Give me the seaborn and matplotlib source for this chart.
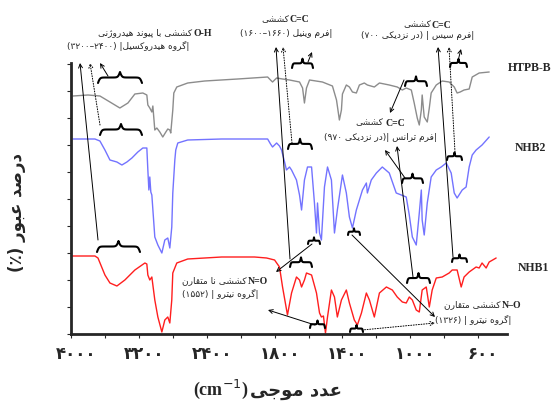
import re
import numpy as np
import pandas as pd
import matplotlib
matplotlib.use("Agg")
import matplotlib.pyplot as plt
import matplotlib.transforms as mtrans
from matplotlib.lines import Line2D
import seaborn as sns

# FTIR spectra: wavenumber (cm-1) / transmittance (stacked, a.u.)
htpb_wn = [3976, 3800, 3659, 3541, 3424, 3329, 3247, 3153, 3106, 3094, 3071, 3047, 3035, 3012, 2988, 2953,
           2918, 2882, 2859, 2835, 2824, 2800, 2788, 2753, 2624, 2424, 2035, 1841, 1824, 1812, 1788, 1753,
           1712, 1653, 1635, 1624, 1612, 1594, 1518, 1459, 1435, 1418, 1406, 1400, 1377, 1359, 1341, 1318,
           1300, 1271, 1253, 1212, 1182, 1124, 1077, 1047, 1024, 994, 977, 959, 947, 935, 930, 918, 900, 888,
           877, 847, 812, 771, 741, 724, 706, 683, 653, 635, 594, 535]
htpb_t = [238, 239, 238, 232, 226, 231, 240, 241, 239, 229, 226, 222, 228, 204, 206, 202,
          197, 202, 205, 204, 201, 224, 241, 247, 251, 253, 255, 257, 254, 252, 256, 255,
          254, 252, 246, 231, 246, 254, 252, 248, 234, 214, 224, 240, 249, 247, 242, 241,
          249, 251, 249, 247, 251, 249, 247, 244, 246, 244, 231, 216, 209, 224, 239, 217, 212, 226,
          241, 249, 253, 252, 247, 241, 242, 244, 245, 257, 261, 262]

nhb2_wn = [3976, 3718, 3659, 3600, 3541, 3459, 3400, 3341, 3282, 3212, 3153, 3106, 3094, 3082, 3071, 3059,
           3047, 3012, 2976, 2929, 2894, 2859, 2835, 2812, 2800, 2776, 2765, 2741, 2624, 2224, 1841, 1824,
           1812, 1788, 1771, 1759, 1741, 1730, 1712, 1700, 1671, 1653, 1641, 1624, 1606, 1582, 1565, 1553,
           1547, 1535, 1524, 1506, 1488, 1465, 1447, 1430, 1400, 1377, 1359, 1341, 1318, 1282, 1259, 1253,
           1230, 1200, 1165, 1124, 1083, 1053, 1024, 1006, 988, 965, 947, 935, 930, 918, 900, 877,
           847, 818, 788, 759, 741, 724, 694, 671, 653, 635, 612, 577, 535]
nhb2_t = [195, 195, 193, 184, 174, 172, 169, 172, 176, 182, 186, 186, 164, 144, 157, 142,
          139, 97, 89, 81, 94, 96, 86, 107, 141, 174, 184, 191, 194, 195, 195, 190,
          187, 191, 188, 184, 172, 164, 167, 164, 154, 139, 124, 154, 167, 167, 131, 101,
          131, 101, 94, 147, 167, 154, 101, 124, 159, 141, 117, 106, 124, 144, 151, 141,
          154, 161, 167, 161, 141, 139, 137, 119, 97, 89, 121, 144, 114, 99, 131, 157,
          164, 167, 171, 161, 141, 136, 144, 147, 167, 179, 184, 189, 197]

nhb1_wn = [3988, 3718, 3682, 3600, 3541, 3459, 3365, 3247, 3129, 3106, 3094, 3071, 3047, 3012, 2976, 2929,
           2894, 2859, 2835, 2812, 2800, 2753, 2624, 2224, 1918, 1847, 1800, 1771, 1753, 1724, 1700, 1671,
           1653, 1641, 1624, 1612, 1582, 1553, 1535, 1524, 1512, 1500, 1488, 1465, 1447, 1430, 1406, 1377,
           1359, 1330, 1312, 1288, 1259, 1241, 1212, 1182, 1141, 1106, 1077, 1047, 1024, 1006, 988, 965,
           947, 930, 906, 888, 871, 847, 812, 771, 753, 724, 700, 683, 653, 612, 594, 577, 553, 535, 494]
nhb1_t = [78, 78, 76, 59, 51, 48, 54, 64, 71, 70, 59, 54, 57, 34, 17, 2,
          14, 17, 11, 34, 61, 71, 75, 77, 77, 76, 74, 67, 47, 19, 41, 57,
          54, 47, 54, 61, 59, 41, 21, 17, 18, 1, 17, 44, 37, 17, 34, 44,
          31, 14, 9, 21, 41, 34, 17, 41, 47, 44, 37, 32, 31, 37, 34, 24,
          22, 44, 47, 27, 44, 56, 57, 61, 64, 64, 47, 57, 62, 67, 66, 71, 66, 72, 76]

samples = ["HTPB-B", "NHB2", "NHB1"]
colors = ["#8c8c8c", "#7373ff", "#ff1e1e"]

major_ticks = [4000, 3200, 2400, 1800, 1400, 1000, 600]
major_labels = ["۴۰۰۰", "۳۲۰۰", "۲۴۰۰", "۱۸۰۰", "۱۴۰۰", "۱۰۰۰", "۶۰۰"]
minor_ticks = [3600, 2800, 2000, 1600, 1200, 800]

# ---- minimal persian shaping (matplotlib has no complex text layout) ----
FORMS = {
    'ا': ('\ufe8d', '\ufe8e', None, None), 'ب': ('\ufe8f', '\ufe90', '\ufe91', '\ufe92'),
    'پ': ('\ufb56', '\ufb57', '\ufb58', '\ufb59'), 'ت': ('\ufe95', '\ufe96', '\ufe97', '\ufe98'),
    'ج': ('\ufe9d', '\ufe9e', '\ufe9f', '\ufea0'), 'د': ('\ufea9', '\ufeaa', None, None),
    'ر': ('\ufead', '\ufeae', None, None), 'ز': ('\ufeaf', '\ufeb0', None, None),
    'ژ': ('\ufb8a', '\ufb8b', None, None), 'س': ('\ufeb1', '\ufeb2', '\ufeb3', '\ufeb4'),
    'ش': ('\ufeb5', '\ufeb6', '\ufeb7', '\ufeb8'), 'ص': ('\ufeb9', '\ufeba', '\ufebb', '\ufebc'),
    'ع': ('\ufec9', '\ufeca', '\ufecb', '\ufecc'), 'ف': ('\ufed1', '\ufed2', '\ufed3', '\ufed4'),
    'ق': ('\ufed5', '\ufed6', '\ufed7', '\ufed8'), 'ک': ('\ufb8e', '\ufb8f', '\ufb90', '\ufb91'),
    'گ': ('\ufb92', '\ufb93', '\ufb94', '\ufb95'), 'ل': ('\ufedd', '\ufede', '\ufedf', '\ufee0'),
    'م': ('\ufee1', '\ufee2', '\ufee3', '\ufee4'), 'ن': ('\ufee5', '\ufee6', '\ufee7', '\ufee8'),
    'و': ('\ufeed', '\ufeee', None, None), 'ه': ('\ufee9', '\ufeea', '\ufeeb', '\ufeec'),
    'ی': ('\ufbfc', '\ufbfd', '\ufbfe', '\ufbff'),
}


def shape(text):
    text = text.replace('ي', 'ی').replace('ك', 'ک')
    out = []
    for i, c in enumerate(text):
        if c not in FORMS:
            out.append(c)
            continue
        iso, fin, ini, med = FORMS[c]
        prev = text[i - 1] if i > 0 else ''
        nxt = text[i + 1] if i + 1 < len(text) else ''
        jp = prev in FORMS and FORMS[prev][2] is not None
        jn = ini is not None and nxt in FORMS
        out.append(med if jp and jn else fin if jp else ini if jn else iso)
    return ''.join(out)


def fa(text):
    # shaped + reversed for display (RTL line), digit runs kept left to right
    toks = re.findall(r'[\u06f0-\u06f9]+|.', shape(text))
    mirror = {'(': ')', ')': '('}
    return ''.join(mirror.get(t, t) for t in reversed(toks))


W, H = 554, 403
sns.set_style("ticks")
plt.rcParams['font.family'] = ['DejaVu Sans']

fig = plt.figure(figsize=(W / 100, H / 100), dpi=100)
ax = fig.add_axes([71 / W, 1 - 334 / H, (507 - 71) / W, (334 - 63) / H])

df = pd.concat([
    pd.DataFrame({"wn": htpb_wn, "t": htpb_t, "sample": samples[0]}),
    pd.DataFrame({"wn": nhb2_wn, "t": nhb2_t, "sample": samples[1]}),
    pd.DataFrame({"wn": nhb1_wn, "t": nhb1_t, "sample": samples[2]}),
])
sns.lineplot(data=df, x="wn", y="t", hue="sample", palette=dict(zip(samples, colors)),
             sort=False, estimator=None, legend=False, lw=1.0, ax=ax)


# FTIR axis: 4000-2000 drawn at half scale
def fwd(w):
    w = np.asarray(w, dtype=float)
    return np.where(w > 2000, 2000 + (w - 2000) / 2, w)


def inv(u):
    u = np.asarray(u, dtype=float)
    return np.where(u > 2000, 2000 + (u - 2000) * 2, u)


ax.set_xscale("function", functions=(fwd, inv))
ax.set_xlim(4000, 430)
ax.set_ylim(0, 271)
ax.set_xticks(major_ticks)
ax.set_xticklabels(major_labels, fontsize=12, fontweight="bold")
ax.set_xticks(minor_ticks, minor=True)
ax.set_yticks(np.arange(0, 271, 27))
ax.tick_params(axis="y", length=3, width=0.8, labelleft=False)
ax.tick_params(axis="x", which="both", length=3, width=0.8, pad=5)
shift = mtrans.ScaledTranslation(5 / 100, 0, fig.dpi_scale_trans)
for lab in ax.get_xticklabels():
    lab.set_transform(lab.get_transform() + shift)
ax.set_xlabel("")
ax.set_ylabel("")
sns.despine(ax=ax)
ax.spines["left"].set_linewidth(2)
ax.spines["bottom"].set_linewidth(2)


def fp(x, y):
    return (x / W, 1 - y / H)


def ftext(x, y, s, ha="center", size=6.5, weight="normal", family="DejaVu Sans", rot=0):
    fig.text(x / W, 1 - y / H, s, ha=ha, va="center", fontsize=size, fontweight=weight,
             family=family, rotation=rot)


def brace(x0, x1, yb, h=11):
    t = np.linspace(0, 1, 61)
    half = t[:31] * 0.5 / t[30]
    yh = 1 / (1 + np.exp(-45 * half)) + 1 / (1 + np.exp(-45 * (half - 0.5)))
    yy = np.concatenate([yh, yh[-2::-1]])
    xs = x0 + t * (x1 - x0)
    ys = yb - (yy - 0.5) * h
    fig.add_artist(Line2D(xs / W, 1 - ys / H, color="k", lw=1.5, transform=fig.transFigure))


def arrow(tail, head, ls="-"):
    ax.annotate("", xy=fp(*head), xytext=fp(*tail), xycoords="figure fraction",
                textcoords="figure fraction", annotation_clip=False,
                arrowprops=dict(arrowstyle="->", color="k", lw=0.7, linestyle=ls,
                                shrinkA=0, shrinkB=0, mutation_scale=7))


# braces marking the bands
for x0, x1, yb in [(98, 142, 83), (100, 142, 135), (97, 140, 252),
                   (292, 313, 68), (288, 312, 149), (290, 312, 267),
                   (450, 467, 67), (447, 462, 160), (452, 467, 262),
                   (405, 427, 86), (402, 423, 183), (407, 430, 283),
                   (308, 320, 244), (310, 325, 328), (348, 360, 235), (350, 363, 332)]:
    brace(x0, x1, yb, h=min(11, (x1 - x0) * 0.3 + 3))

for tail, head, ls in [((98, 240), (80, 63), "-"), ((100, 125), (90, 63), ":"), ((108, 76), (100, 63), "-"),
                       ((290, 259), (276, 47), "-"), ((292, 143), (283, 47), ":"), ((308, 62), (312, 52), "-"),
                       ((453, 257), (438, 47), "-"), ((455, 152), (449, 47), ":"), ((458, 61), (461, 49), "-"),
                       ((404, 80), (390, 113), "-"), ((405, 178), (385, 150), "-"), ((413, 277), (397, 146), "-"),
                       ((312, 244), (276, 272), "-"), ((315, 325), (268, 310), "-"),
                       ((352, 235), (435, 317), "-"), ((362, 330), (435, 323), ":")]:
    arrow(tail, head, ls)

# sample names
ftext(508, 68, "HTPB-B", ha="left", size=8.5, weight="bold", family="Liberation Serif")
ftext(515, 148, "NHB2", ha="left", size=8.5, weight="bold", family="Liberation Serif")
ftext(518, 268, "NHB1", ha="left", size=8.5, weight="bold", family="Liberation Serif")

# band notes
ftext(192, 33, fa("کششی با پیوند هیدروژنی"), ha="right")
ftext(194, 33, "O-H", ha="left", size=7, weight="bold", family="Liberation Serif")
ftext(128, 46, fa("|گروه هیدروکسیل| (۲۴۰۰–۳۲۰۰)"))

ftext(289, 20, fa("کششی"), ha="right")
ftext(290, 20, "C=C", ha="left", size=7, weight="bold", family="Liberation Serif")
ftext(286, 33, fa("|فرم وینیل (۱۶۶۰–۱۶۰۰)"))

ftext(431, 25, fa("کششی"), ha="right")
ftext(432, 25, "C=C", ha="left", size=7, weight="bold", family="Liberation Serif")
ftext(418, 36, fa("|فرم سیس | (در نزدیکی ۷۰۰)"))

ftext(383, 123, fa("کششی"), ha="right")
ftext(385, 123, "C=C", ha="left", size=7, weight="bold", family="Liberation Serif")
ftext(380, 138, fa("|فرم ترانس |(در نزدیکی ۹۷۰)"))

ftext(247, 281, fa("کششی نا متقارن"), ha="right")
ftext(248, 281, "N=O", ha="left", size=7, weight="bold", family="Liberation Serif")
ftext(220, 294, fa("|گروه نیترو | (۱۵۵۲)"))

ftext(501, 305, fa("کششی متقارن"), ha="right")
ftext(502, 305, "N–O", ha="left", size=7, weight="bold", family="Liberation Serif")
ftext(473, 320, fa("|گروه نیترو | (۱۳۲۶)"))

# axis titles
ftext(250, 391, fa("عدد موجی"), ha="left", size=13, weight="bold")
ftext(248, 389, "(cm$^{-1}$)", ha="right", size=13, weight="bold", family="Liberation Serif")
ftext(17, 212, "(٪) " + fa("درصد عبور"), size=12, weight="bold", rot=90)

fig.savefig("out.png", dpi=100)
